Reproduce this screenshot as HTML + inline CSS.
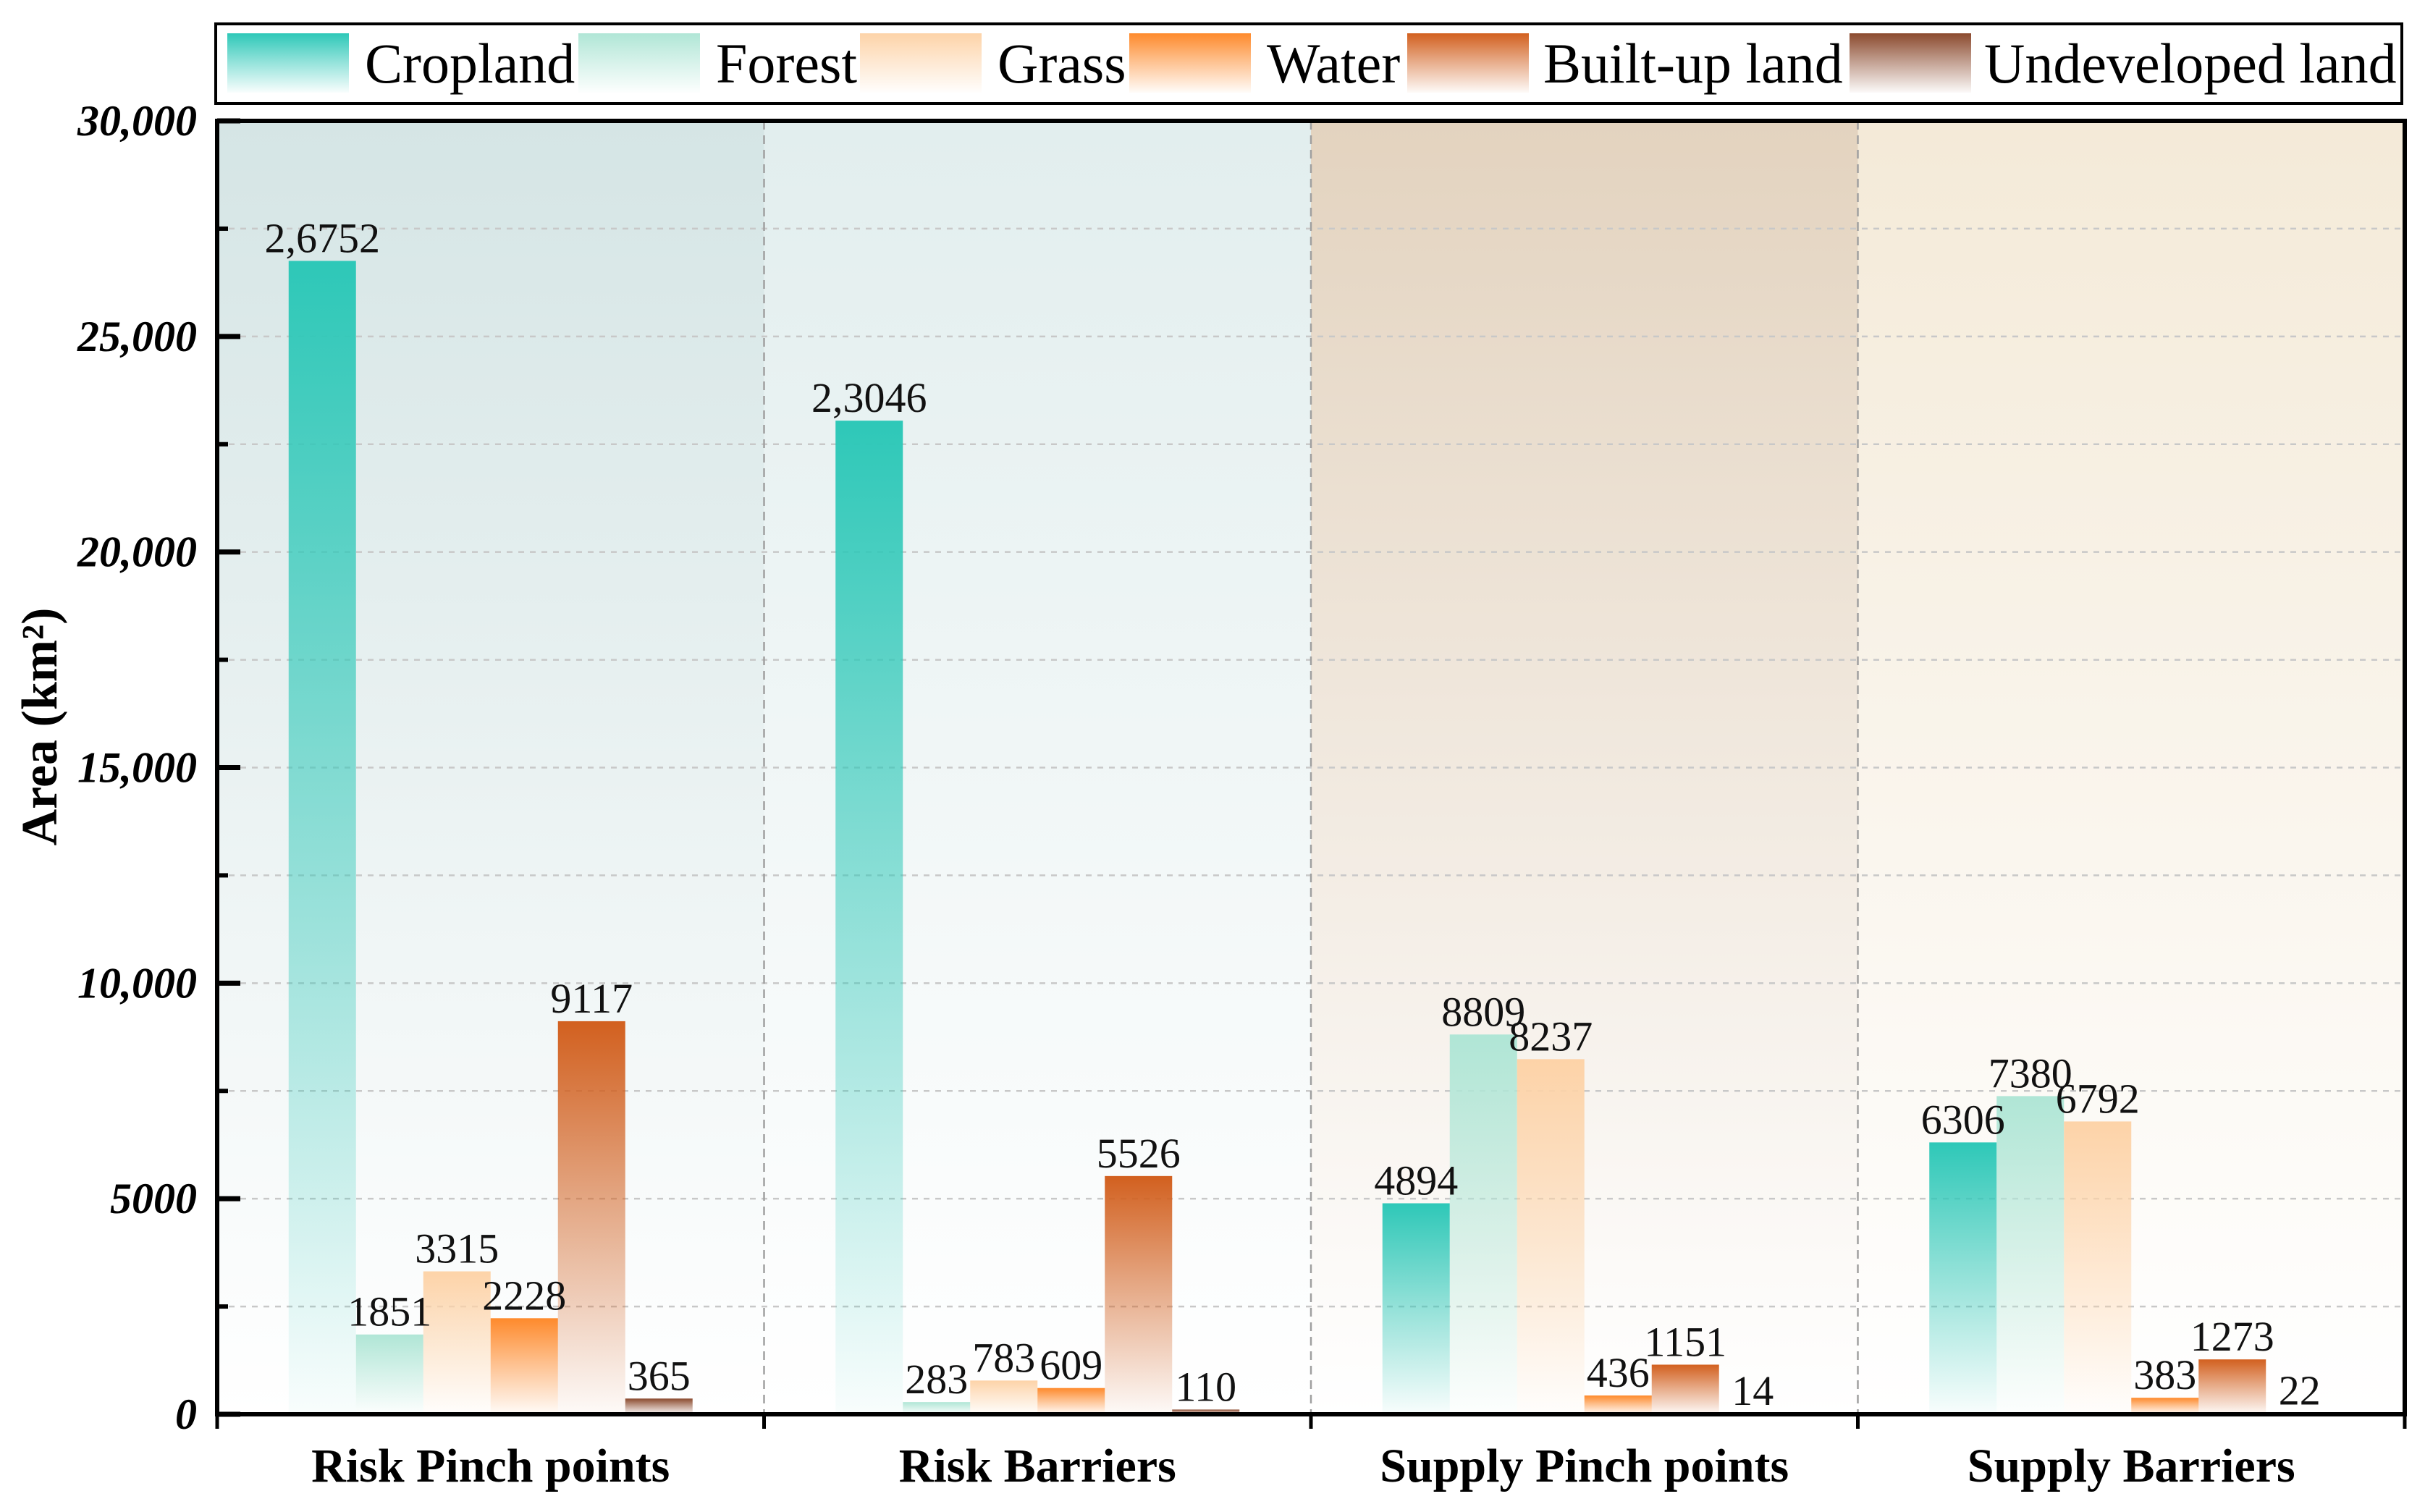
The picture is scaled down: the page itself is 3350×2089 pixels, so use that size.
<!DOCTYPE html>
<html><head><meta charset="utf-8"><style>
html,body{margin:0;padding:0;background:#fff;}
svg{display:block;font-family:"Liberation Serif",serif;}
</style></head><body>
<svg id="chart" width="3350" height="2089" viewBox="0 0 3350 2089" xmlns="http://www.w3.org/2000/svg">
<defs id="defs"></defs>
<g id="bg"></g><g id="grid"></g><g id="bars"></g><g id="labels"></g><g id="axes"></g><g id="legend"></g>
</svg>
<script>
const categories = ["Risk Pinch points","Risk  Barriers","Supply Pinch points","Supply Barriers"];
const seriesNames = ["Cropland","Forest","Grass","Water","Built-up land","Undeveloped land"];
const cropland = [26752,23046,4894,6306];
const forest = [1851,283,8809,7380];
const grass = [3315,783,8237,6792];
const water = [2228,609,436,383];
const builtUp = [9117,5526,1151,1273];
const undeveloped = [365,110,14,22];
const printedLabels = [
  ["2,6752","1851","3315","2228","9117","365"],
  ["2,3046","283","783","609","5526","110"],
  ["4894","8809","8237","436","1151","14"],
  ["6306","7380","6792","383","1273","22"]];
const yTicks = [0,5000,10000,15000,20000,25000,30000];
const yTickLabels = ["0","5000","10,000","15,000","20,000","25,000","30,000"];

const series=[cropland,forest,grass,water,builtUp,undeveloped];
const colors=["#2ec8b8","#b0e6d6","#fdd3a8","#fe8a2c","#d2601f","#8b4a2e"];
const bgTop=["#d5e5e5","#e2eeee","#e3d3bf","#f4ead8"];
const NS="http://www.w3.org/2000/svg";
const L=300,R=3322,T=167,B=1954,yMax=30000;
const gw=(R-L)/categories.length, bw=93, pad=(gw-6*bw)/2;
const y=v=>B-(v/yMax)*(B-T);
const gx=i=>L+i*gw;
function mk(tag,attrs,parent,text){const e=document.createElementNS(NS,tag);for(const k in attrs)e.setAttribute(k,attrs[k]);if(text!==undefined)e.textContent=text;parent.appendChild(e);return e;}
const defs=document.getElementById('defs');
colors.forEach((c,i)=>{const g=mk('linearGradient',{id:'g'+i,x1:0,y1:0,x2:0,y2:1},defs);
 mk('stop',{offset:'0',  'stop-color':c},g);
 mk('stop',{offset:'0.45','stop-color':c,'stop-opacity':0.55},g);
 mk('stop',{offset:'1','stop-color':c,'stop-opacity':0.03},g);});
bgTop.forEach((c,i)=>{const g=mk('linearGradient',{id:'b'+i,x1:0,y1:0,x2:0,y2:1},defs);
 mk('stop',{offset:'0','stop-color':c},g);mk('stop',{offset:'1','stop-color':'#ffffff'},g);});
const bg=document.getElementById('bg');
categories.forEach((c,i)=>{const r=mk('rect',{x:gx(i),y:T,width:gw,height:B-T,fill:'url(#b'+i+')'},bg);

});
const grid=document.getElementById('grid');
for(let v=2500;v<yMax;v+=2500){const l=mk('line',{x1:L,x2:R,y1:y(v),y2:y(v),stroke:'#c8c8c8','stroke-width':2.5,'stroke-dasharray':'8 8'},grid);

}
for(let i=1;i<categories.length;i++){const l=mk('line',{x1:gx(i),x2:gx(i),y1:T,y2:B,stroke:'#a0a0a0','stroke-width':2.5,'stroke-dasharray':'12 8'},grid);

}
const bars=document.getElementById('bars'),labels=document.getElementById('labels');
categories.forEach((c,i)=>{series.forEach((s,j)=>{const x=gx(i)+pad+j*bw,v=s[i];
 const r=mk('rect',{x:x,y:y(v),width:bw,height:B-y(v),fill:'url(#g'+j+')'},bars);
 
 
 const t=mk('text',{x:x+bw/2,y:y(v)-12,'font-size':58,'text-anchor':'middle',fill:'#111'},labels,printedLabels[i][j]);
 
 });});
const ax=document.getElementById('axes');
mk('rect',{x:L,y:T,width:R-L,height:B-T,fill:'none',stroke:'#000','stroke-width':6},ax);
yTicks.forEach((v,k)=>{const t=mk('text',{x:272,y:y(v)+20,'font-size':60,'font-weight':'bold','font-style':'italic','text-anchor':'end'},ax,yTickLabels[k]);
 
 
 mk('line',{x1:L,x2:L+32,y1:y(v),y2:y(v),stroke:'#000','stroke-width':7},ax);});
for(let v=2500;v<yMax;v+=5000) mk('line',{x1:L,x2:L+15,y1:y(v),y2:y(v),stroke:'#000','stroke-width':6},ax);
for(let i=0;i<=categories.length;i++) mk('line',{x1:gx(i),x2:gx(i),y1:B,y2:B+20,stroke:'#000','stroke-width':5},ax);
categories.forEach((c,i)=>{const t=mk('text',{x:gx(i)+gw/2,y:2047,'font-size':66,'font-weight':'bold','text-anchor':'middle','xml:space':'preserve'},ax,c);
 
 });
const yt=mk('text',{x:0,y:0,'font-size':70,'font-weight':'bold','text-anchor':'middle',transform:'translate(78,1004) rotate(-90)'},ax,'Area (km²)');


const lg=document.getElementById('legend');
const lb=mk('rect',{x:298,y:33,width:3020,height:110,fill:'#fff',stroke:'#000','stroke-width':4},lg);


const swX=[314,799,1188,1560,1944,2555];
const txX=[504,989,1378,1750,2132,2741];
seriesNames.forEach((n,j)=>{const g=mk('g',{},lg);
 
 
 mk('rect',{x:swX[j],y:46,width:168,height:82,fill:'url(#g'+j+')'},g);
 mk('text',{x:txX[j],y:114,'font-size':78},g,n);});
</script>
</body></html>
